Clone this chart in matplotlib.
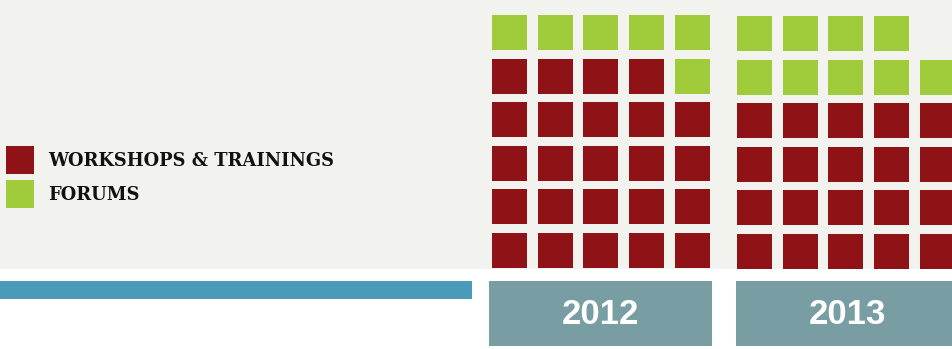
import matplotlib.pyplot as plt
from matplotlib.patches import Rectangle

# data
years = ["2012", "2013"]
workshops = [24, 20]
forums = [6, 9]
ncols = 5
nrows = 6
labels = ["WORKSHOPS & TRAININGS", "FORUMS"]

red = "#8f1216"
green = "#a0cc3c"
bg = "#f2f3ee"
blue = "#4a9aba"
boxc = "#789ea3"

fig = plt.figure(figsize=(9.52, 3.49), dpi=100)
ax = fig.add_axes([0, 0, 1, 1])
ax.set_xlim(0, 952)
ax.set_ylim(349, 0)
ax.axis("off")

# background panel
ax.add_patch(Rectangle((0, 0), 952, 269, color=bg, lw=0))
# blue strip
ax.add_patch(Rectangle((0, 281), 472, 18, color=blue, lw=0))

x0s = [492, 737]
box_x = [489, 736]
y_bottoms = [268, 269]
size = 35
pitch_x = 45.7
pitch_y = 43.6

for k, yr in enumerate(years):
    colors = [red] * workshops[k] + [green] * forums[k]
    for i, c in enumerate(colors):
        row = i // ncols
        col = i % ncols
        x = x0s[k] + col * pitch_x
        y = y_bottoms[k] - size - row * pitch_y
        ax.add_patch(Rectangle((x, y), size, size, color=c, lw=0))
    bx = box_x[k]
    ax.add_patch(Rectangle((bx, 281), 223, 65, color=boxc, lw=0))
    ax.text(bx + 111.5, 314, yr, color="white", fontsize=25, fontweight="bold",
            family="Liberation Sans", ha="center", va="center")

# legend
for j, (lab, c) in enumerate(zip(labels, [red, green])):
    y = 146 + j * 34
    ax.add_patch(Rectangle((6, y), 28, 28, color=c, lw=0))
    ax.text(48, y + 15, lab, color="#111111", fontsize=12.9, fontweight="heavy",
            family="DejaVu Serif", ha="left", va="center")

fig.savefig("out.png", dpi=100)
